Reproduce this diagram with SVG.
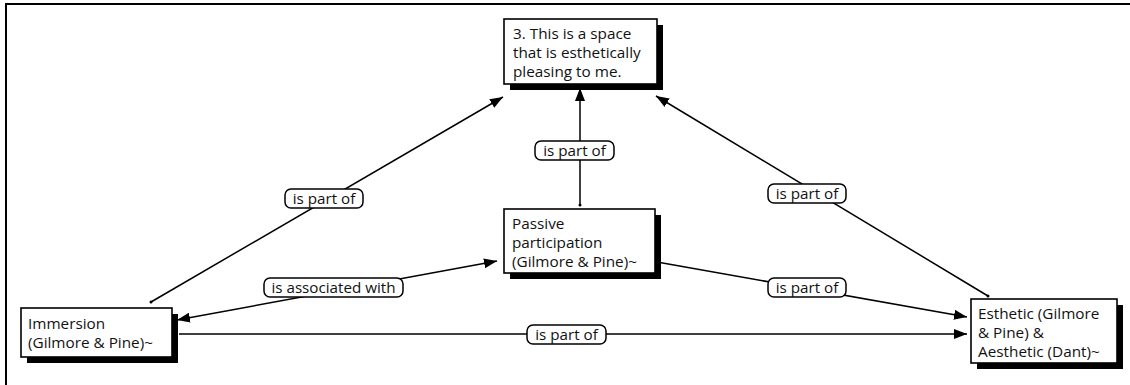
<svg xmlns="http://www.w3.org/2000/svg" width="1130" height="385" viewBox="0 0 1130 385">
  <style>
    .frame { fill: none; stroke: #000; stroke-width: 2; }
    .box { fill: #fff; stroke: #000; stroke-width: 1.6; }
    .shadow { fill: #000; }
    .txt { font-family: "Open Sans", "Noto Sans", sans-serif; font-size: 15.3px; fill: #111; }
    .link { fill: none; stroke: #000; stroke-width: 1.5; }
    .lbl { fill: #fff; stroke: #000; stroke-width: 1.5; }
    .ltxt { font-family: "Open Sans", "Noto Sans", sans-serif; font-size: 15.2px; fill: #111; text-anchor: middle; }
  </style>
  <defs>
    <marker id="arrow" viewBox="0 0 13 10" refX="13" refY="5" markerWidth="13" markerHeight="10" markerUnits="userSpaceOnUse" orient="auto-start-reverse">
      <path d="M0,0 L13,5 L0,10 z" fill="#000"/>
    </marker>
  </defs>

  <rect width="1130" height="385" fill="#fff"/>
  <path class="frame" d="M6,385 V4 H1130"/>

  <!-- connectors -->
  <g id="connectors">
    <line class="link" x1="151" y1="302" x2="503" y2="97" marker-end="url(#arrow)"/>
    <circle cx="151" cy="302" r="1.5"/>
    <line class="link" x1="580" y1="205" x2="580" y2="88" marker-end="url(#arrow)"/>
    <circle cx="580" cy="205" r="1.5"/>
    <line class="link" x1="988" y1="296" x2="656" y2="96" marker-end="url(#arrow)"/>
    <circle cx="988" cy="296" r="1.5"/>
    <line class="link" x1="177" y1="320" x2="497" y2="261" marker-start="url(#arrow)" marker-end="url(#arrow)"/>
    <line class="link" x1="657" y1="262" x2="967" y2="317" marker-end="url(#arrow)"/>
    <line class="link" x1="179" y1="334" x2="967" y2="334" marker-end="url(#arrow)"/>

    <rect class="lbl" x="285" y="189" width="78" height="19" rx="6"/>
    <text class="ltxt" x="324" y="203.5">is part of</text>
    <rect class="lbl" x="535" y="141" width="79" height="19" rx="6"/>
    <text class="ltxt" x="574.5" y="155.5">is part of</text>
    <rect class="lbl" x="768" y="184" width="78" height="19" rx="6"/>
    <text class="ltxt" x="807" y="198.5">is part of</text>
    <rect class="lbl" x="264" y="278" width="139" height="19" rx="6"/>
    <text class="ltxt" x="333.5" y="292.5">is associated with</text>
    <rect class="lbl" x="768" y="278" width="78" height="19" rx="6"/>
    <text class="ltxt" x="807" y="292.5">is part of</text>
    <rect class="lbl" x="527" y="325" width="79" height="19" rx="6"/>
    <text class="ltxt" x="566.5" y="339.5">is part of</text>
  </g>

  <!-- nodes -->
  <g id="node-space">
    <rect class="shadow" x="510" y="25" width="153" height="65"/>
    <rect class="box" x="504" y="19" width="153" height="65"/>
    <text class="txt" x="513" y="38.5">3. This is a space</text>
    <text class="txt" x="513" y="58">that is esthetically</text>
    <text class="txt" x="513" y="77">pleasing to me.</text>
  </g>
  <g id="node-passive">
    <rect class="shadow" x="510" y="215" width="151" height="64"/>
    <rect class="box" x="504" y="209" width="151" height="64"/>
    <text class="txt" x="512" y="228.5">Passive</text>
    <text class="txt" x="512" y="248">participation</text>
    <text class="txt" x="512" y="267">(Gilmore &amp; Pine)~</text>
  </g>
  <g id="node-immersion">
    <rect class="shadow" x="27" y="314" width="151" height="49"/>
    <rect class="box" x="21" y="308" width="151" height="49"/>
    <text class="txt" x="28" y="328.5">Immersion</text>
    <text class="txt" x="28" y="348">(Gilmore &amp; Pine)~</text>
  </g>
  <g id="node-esthetic">
    <rect class="shadow" x="977" y="305" width="146" height="64"/>
    <rect class="box" x="971" y="299" width="146" height="64"/>
    <text class="txt" x="978" y="318.5">Esthetic (Gilmore</text>
    <text class="txt" x="978" y="338">&amp; Pine) &amp;</text>
    <text class="txt" x="978" y="357">Aesthetic (Dant)~</text>
  </g>
</svg>
